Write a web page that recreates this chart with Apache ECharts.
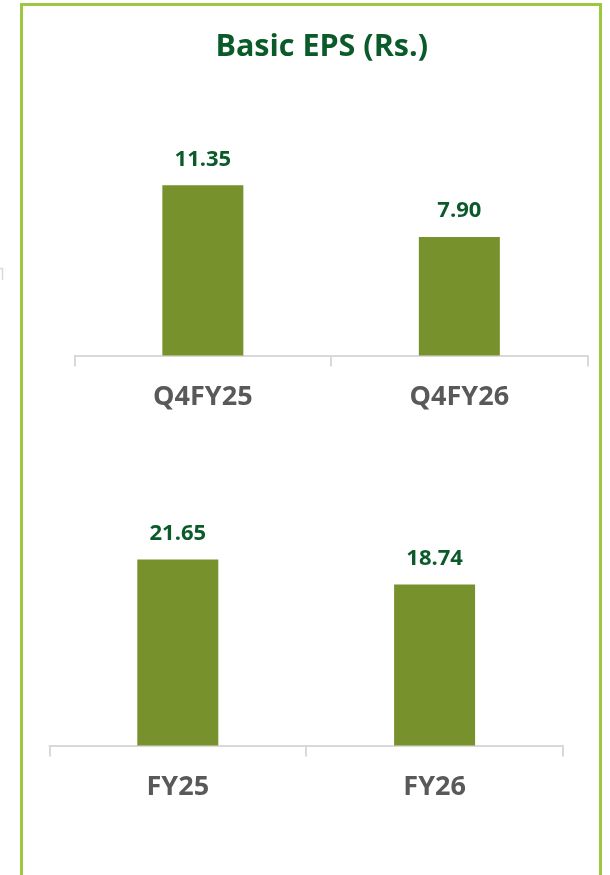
<!DOCTYPE html>
<html>
<head>
<meta charset="utf-8">
<script src="https://cdn.jsdelivr.net/npm/echarts@6/dist/echarts.min.js"></script>
<style>
html,body{margin:0;padding:0;background:#fff;}
#chart{width:610px;height:875px;}
</style>
</head>
<body>
<div id="chart"></div>
<script>
const titleText = 'Basic EPS (Rs.)';
const quarterCategories = ['Q4FY25', 'Q4FY26'];
const quarterValues = [11.35, 7.90];
const yearCategories = ['FY25', 'FY26'];
const yearValues = [21.65, 18.74];

const FONT = '"Open Sans", "Noto Sans", sans-serif';
const barColor = '#77922D';
const labelGreen = '#0B5A2A';
const axisGrey = '#D9D9D9';
const catGrey = '#595959';

const chart = echarts.init(document.getElementById('chart'), null, {renderer: 'canvas'});

function xAxisFor(cats, gridIndex) {
  return {
    type: 'category',
    gridIndex: gridIndex,
    data: cats,
    boundaryGap: true,
    axisLine: {show: true, lineStyle: {color: axisGrey, width: 2}},
    axisTick: {show: true, length: 11, lineStyle: {color: axisGrey, width: 2}},
    axisLabel: {
      color: catGrey, fontFamily: FONT, fontWeight: 'bold', fontSize: 27,
      lineHeight: 27, margin: 28
    },
    splitLine: {show: false}
  };
}
function yAxisFor(max, gridIndex) {
  return {
    type: 'value', gridIndex: gridIndex, min: 0, max: max,
    show: false, splitLine: {show: false}
  };
}
function seriesFor(vals, idx) {
  return {
    type: 'bar',
    xAxisIndex: idx, yAxisIndex: idx,
    data: vals,
    barWidth: 81,
    itemStyle: {color: barColor},
    label: {
      show: true, position: 'top', distance: 15,
      color: labelGreen, fontFamily: FONT, fontWeight: 'bold', fontSize: 22,
      lineHeight: 22,
      formatter: p => p.value.toFixed(2)
    },
    silent: true
  };
}

chart.setOption({
  animation: false,
  backgroundColor: '#ffffff',
  grid: [
    {left: 74.6, width: 513, top: 145.5, height: 210},
    {left: 49.4, width: 513.6, top: 530.75, height: 214.75}
  ],
  xAxis: [xAxisFor(quarterCategories, 0), xAxisFor(yearCategories, 1)],
  yAxis: [yAxisFor(14, 0), yAxisFor(25, 1)],
  series: [seriesFor(quarterValues, 0), seriesFor(yearValues, 1)],
  graphic: [
    {
      type: 'rect', silent: true,
      shape: {x: 21.5, y: 4.5, width: 579, height: 900},
      style: {fill: 'none', stroke: '#9BC83E', lineWidth: 3}
    },
    {
      type: 'polyline', silent: true,
      shape: {points: [[0, 268.5], [2.5, 268.5], [2.5, 280]]},
      style: {fill: 'none', stroke: axisGrey, lineWidth: 1.5}
    },
    {
      type: 'text', silent: true,
      x: 321.7, y: 47,
      style: {
        text: titleText, fill: labelGreen, fontFamily: FONT, fontWeight: 'bold',
        fontSize: 30.5, align: 'center', verticalAlign: 'middle'
      }
    }
  ]
});
</script>
</body>
</html>
